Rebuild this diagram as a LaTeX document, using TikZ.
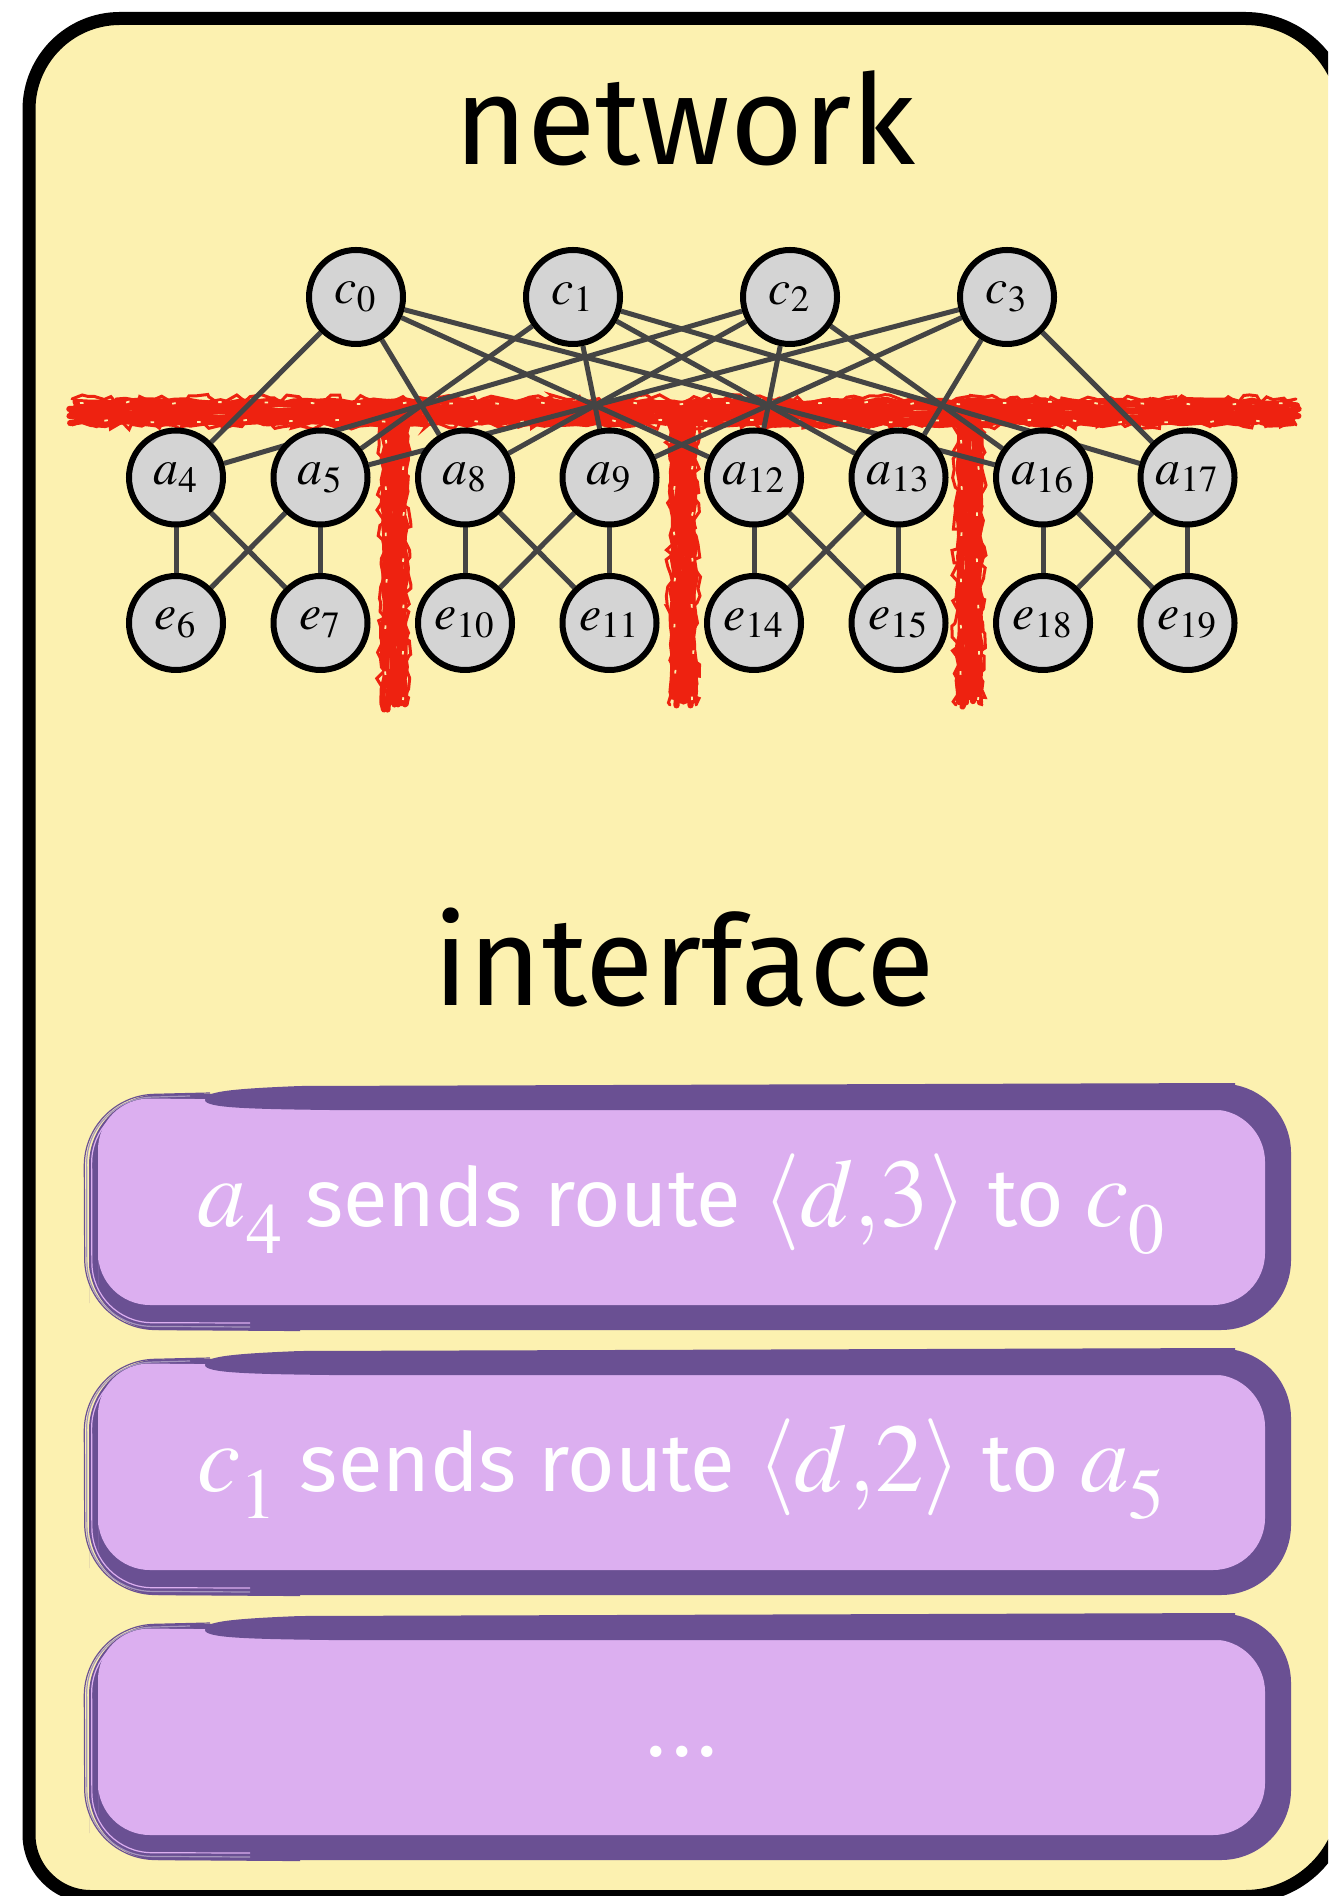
\documentclass[tikz,border=0pt]{standalone}
\usepackage{mathptmx}
\usepackage[no-math]{fontspec}
\setmainfont{Fira Sans}
\usetikzlibrary{decorations.pathmorphing}

\definecolor{paper}{HTML}{FCF1B0}
\definecolor{nodegray}{HTML}{D4D4D4}
\definecolor{wiregray}{HTML}{444444}
\definecolor{scribred}{HTML}{EE2210}
\definecolor{pdark}{HTML}{6A5093}
\definecolor{plight}{HTML}{DCAFF0}

\pgfdeclarelayer{back}
\pgfdeclarelayer{scrib}
\pgfdeclarelayer{wires}
\pgfsetlayers{back,scrib,wires,main}

% larger math inside the message boxes
\newcommand\mth[1]{{\fontsize{27.6}{30}\selectfont$#1$}}
% letter with a well lowered index
\newcommand\lsub[2]{#1_{\lower 3.6pt\hbox{$\scriptstyle #2$}}}

\tikzset{
  sw/.style={circle, draw=black, line width=0.6mm, fill=nodegray,
    minimum size=9.4mm, inner sep=0pt, font=\fontsize{14.2}{16}\selectfont},
  wire/.style={draw=wiregray, line width=0.5mm},
  heading/.style={font=\fontsize{35.6}{40}\selectfont, text=black, inner sep=0pt, anchor=base},
  msgtext/.style={font=\fontsize{23.2}{28}\selectfont, text=white, inner sep=0pt, anchor=base},
  scrib/.style={draw=scribred, line width=0.62mm, line cap=round, decorate,
    decoration={random steps, segment length=1.1mm, amplitude=0.2mm}},
  fringe/.style={draw=scribred, line width=0.3mm, line cap=round, decorate,
    decoration={random steps, segment length=0.7mm, amplitude=0.45mm}},
  speck/.style={draw=paper, line width=0.18mm, dash pattern=on 0.35mm off 4.3mm, decorate,
    decoration={random steps, segment length=1mm, amplitude=0.15mm}},
  sketch/.style={draw=pdark, line width=0.12mm},
}

% one message box: #1 top edge, #2 node name, #3 text
\newcommand\msgbox[3]{%
  \begin{scope}[shift={(0,#1)}]
    \fill[pdark, rounded corners=7mm] (89,150) -- (89,12) -- (1291,0) -- (1291,247) -- (89,247) -- cycle;
    \fill[plight, rounded corners=5.2mm] (98,150) -- (98,15) -- (1265,27) -- (1265,222) -- (98,222) -- cycle;
    \fill[pdark] (205,17) .. controls (205,9) and (225,6) .. (300,3) -- (1235,0) -- (1235,27)
      -- (330,27) .. controls (250,26) and (205,25) .. (205,17) -- cycle;
    % loose pencil strokes along the left side
    \draw[sketch, rounded corners=7mm] (300,247.5) -- (85,246) -- (84,13) -- (210,10);
    \draw[sketch, draw=pdark!60, rounded corners=6.5mm] (250,244) -- (87,243) -- (86.5,16) -- (190,13);
    \draw[sketch, draw=plight, rounded corners=6mm] (250,240) -- (92,239.5) -- (91.5,20) -- (190,17);
    \node[msgtext] (#2) at (682,143) {#3};
  \end{scope}}

\begin{document}
\begin{tikzpicture}[x=0.1mm, y=-0.1mm]
  \useasboundingbox (0,0) rectangle (1328,1896);

  % frame: rounded box whose right side runs just past the page
  \begin{pgfonlayer}{back}
    \fill[white] (0,0) rectangle (1328,1896);
    \begin{scope}
      \clip (0,0) rectangle (1328,1896);
      \draw[fill=paper, line width=1.3mm]
        (29,109.5) .. controls (29,59.24) and (69.74,18.5) .. (120,18.5)
        -- (1245,18.5) .. controls (1300.23,18.5) and (1345,63.27) .. (1345,118.5)
        -- (1345,1796.5) .. controls (1345,1851.73) and (1300.23,1896.5) .. (1245,1896.5)
        -- (91,1896.5) .. controls (56.76,1896.5) and (29,1868.74) .. (29,1834.5)
        -- cycle;
    \end{scope}
  \end{pgfonlayer}

  \node[heading] (nettitle) at (685,165) {network};
  \node[heading] (iftitle) at (684,1005) {interface};

  % switches
  \foreach \n/\x in {0/356,1/573,2/790,3/1007}
    \node[sw] (c\n) at (\x,297) {$c_{\n}$};
  \foreach \n/\x in {4/176,5/320.5,8/465,9/609.5,12/754,13/898.5,16/1043,17/1187.5}
    \node[sw] (a\n) at (\x,477.5) {$a_{\n}$};
  \foreach \n/\x in {6/176,7/320.5,10/465,11/609.5,14/754,15/898.5,18/1043,19/1187.5}
    \node[sw] (e\n) at (\x,623) {$e_{\n}$};

  % links
  \begin{pgfonlayer}{wires}
    \foreach \u/\v in {c0/a4,c0/a8,c0/a12,c0/a16,c2/a4,c2/a8,c2/a12,c2/a16,
                       c1/a5,c1/a9,c1/a13,c1/a17,c3/a5,c3/a9,c3/a13,c3/a17,
                       a4/e6,a4/e7,a5/e6,a5/e7,a8/e10,a8/e11,a9/e10,a9/e11,
                       a12/e14,a12/e15,a13/e14,a13/e15,a16/e18,a16/e19,a17/e18,a17/e19}
      \draw[wire] (\u) -- (\v);
  \end{pgfonlayer}

  % red cut marks
  \begin{pgfonlayer}{scrib}
    \pgfmathsetseed{11}
    \foreach \o in {-10,-6.5,-3,0.5,4,7.5,11}{
      \pgfmathsetmacro\xs{69+10*rnd}
      \pgfmathsetmacro\xe{1299-10*rnd}
      \draw[scrib] (\xs,412+\o) -- (\xe,412+\o);
    }
    \draw[fringe] (72,399) -- (1296,399);
    \draw[fringe] (72,425) -- (1296,425);
    \foreach \cx in {394,683,969}{
      \foreach \o in {-10,-6.5,-3,0.5,4,7.5,11}{
        \pgfmathsetmacro\ye{710-14*rnd}
        \draw[scrib] (\cx+\o,404) -- (\cx+\o,\ye);
      }
      \draw[fringe] (\cx-13,420) -- (\cx-13,705);
      \draw[fringe] (\cx+13,420) -- (\cx+13,705);
      \draw[speck] (\cx-8,440) -- (\cx-8,700);
      \draw[speck, dash phase=2mm] (\cx+9,440) -- (\cx+9,700);
    }
    \draw[speck] (80,403) -- (1290,403);
    \draw[speck, dash phase=2.2mm] (80,421) -- (1290,421);
  \end{pgfonlayer}

  % messages
  \msgbox{1083}{m1}{\mth{\lsub{a}{4}} sends route \mth{\langle d{,}3\rangle} to \mth{\lsub{c}{0}}}
  \msgbox{1348}{m2}{\mth{\lsub{c}{1}} sends route \mth{\langle d{,}2\rangle} to \mth{\lsub{a}{5}}}
  \msgbox{1613}{m3}{.\kern0.07em.\kern0.07em.}
\end{tikzpicture}
\end{document}
